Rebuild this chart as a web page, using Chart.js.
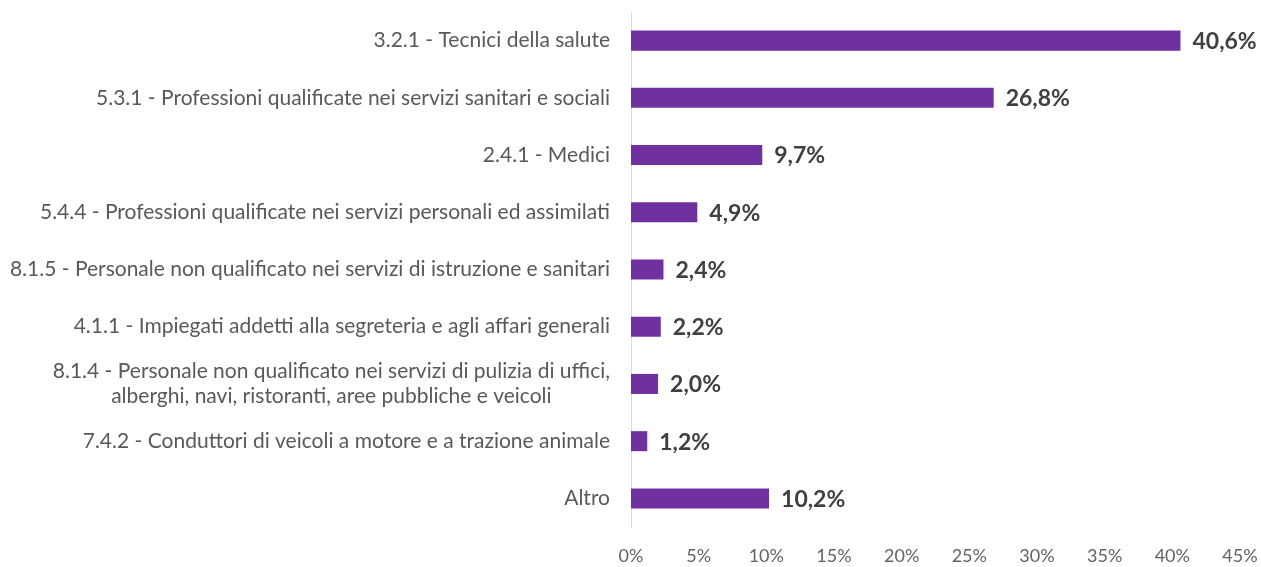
<!DOCTYPE html>
<html>
<head>
<meta charset="utf-8">
<script src="https://cdn.jsdelivr.net/npm/chart.js@4/dist/chart.umd.min.js"></script>
<style>
  html, body { margin: 0; padding: 0; background: #fff; }
  #wrap { width: 1261px; height: 567px; }
</style>
</head>
<body>
<div id="wrap"><canvas id="chart"></canvas></div>
<script>
const categories = [
  '3.2.1 - Tecnici della salute',
  '5.3.1 - Professioni qualificate nei servizi sanitari e sociali',
  '2.4.1 - Medici',
  '5.4.4 - Professioni qualificate nei servizi personali ed assimilati',
  '8.1.5 - Personale non qualificato nei servizi di istruzione e sanitari',
  '4.1.1 - Impiegati addetti alla segreteria e agli affari generali',
  ['8.1.4 - Personale non qualificato nei servizi di pulizia di uffici,', 'alberghi, navi, ristoranti, aree pubbliche e veicoli'],
  '7.4.2 - Conduttori di veicoli a motore e a trazione animale',
  'Altro'
];
const values = [40.6, 26.8, 9.7, 4.9, 2.4, 2.2, 2.0, 1.2, 10.2];
const xTicks = [0, 5, 10, 15, 20, 25, 30, 35, 40, 45];

const FONT = 'Lato, "Open Sans", sans-serif';
const fmt = v => v.toFixed(1).replace('.', ',') + '%';

// etichette delle categorie (la riga doppia va centrata su se stessa)
const categoryLabels = {
  id: 'categoryLabels',
  afterDraw(chart) {
    const ctx = chart.ctx;
    const y = chart.scales.y;
    const right = chart.chartArea.left - 21;
    ctx.save();
    ctx.font = '21px ' + FONT;
    ctx.fillStyle = '#595959';
    ctx.textBaseline = 'middle';
    categories.forEach((lab, i) => {
      const cy = y.getPixelForValue(i);
      if (Array.isArray(lab)) {
        const w = Math.max(...lab.map(l => ctx.measureText(l).width));
        const cx = right - w / 2;
        ctx.textAlign = 'center';
        const lh = 25;
        lab.forEach((l, j) => {
          ctx.fillText(l, cx, cy + (j - (lab.length - 1) / 2) * lh);
        });
      } else {
        ctx.textAlign = 'right';
        ctx.fillText(lab, right, cy);
      }
    });
    ctx.restore();
  }
};

// valori a destra delle barre
const valueLabels = {
  id: 'valueLabels',
  afterDatasetsDraw(chart) {
    const ctx = chart.ctx;
    const meta = chart.getDatasetMeta(0);
    ctx.save();
    ctx.font = 'bold 23px ' + FONT;
    ctx.fillStyle = '#404040';
    ctx.textAlign = 'left';
    ctx.textBaseline = 'middle';
    meta.data.forEach((bar, i) => {
      ctx.fillText(fmt(values[i]), bar.x + 12, bar.y + 1);
    });
    ctx.restore();
  }
};

new Chart(document.getElementById('chart'), {
  type: 'bar',
  data: {
    labels: categories,
    datasets: [{
      data: values,
      backgroundColor: '#7030A0',
      borderWidth: 0,
      barPercentage: 0.7,
      categoryPercentage: 0.5
    }]
  },
  options: {
    indexAxis: 'y',
    responsive: true,
    maintainAspectRatio: false,
    animation: false,
    layout: { padding: { top: 12, right: 21, left: 0, bottom: 0 } },
    plugins: {
      legend: { display: false },
      tooltip: { enabled: false }
    },
    scales: {
      x: {
        min: 0,
        max: 45,
        afterBuildTicks: s => { s.ticks = xTicks.map(v => ({ value: v })); },
        afterFit: s => { s.height = 40; s.paddingRight = 0; },
        grid: { display: false },
        border: { display: false },
        ticks: {
          padding: 10,
          color: '#636363',
          font: { family: FONT, size: 18 },
          callback: v => v + '%'
        }
      },
      y: {
        afterFit: s => { s.width = 631; },
        grid: { display: false },
        border: { display: true, color: '#d9d9d9', width: 1 },
        ticks: { display: false }
      }
    }
  },
  plugins: [categoryLabels, valueLabels]
});
</script>
</body>
</html>
